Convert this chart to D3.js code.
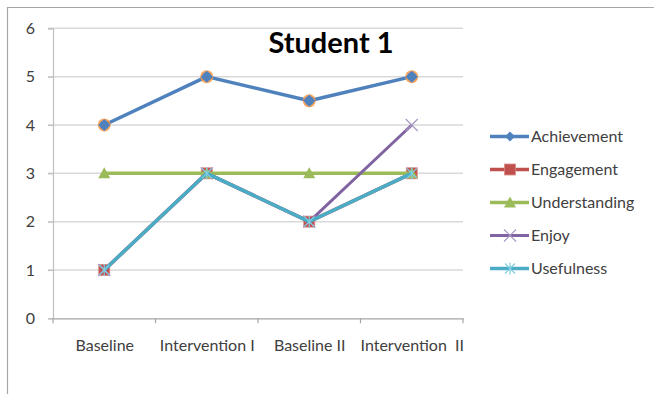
<!DOCTYPE html>
<html>
<head>
<meta charset="utf-8">
<script src="https://cdn.jsdelivr.net/npm/d3@7"></script>
<style>
  body { margin: 0; background: #fff; }
  text { font-family: Lato, "Liberation Sans", sans-serif; }
</style>
</head>
<body>
<svg id="chart" width="654" height="394"></svg>
<script>
// chart data
const categories = ['Baseline', 'Intervention I', 'Baseline II', 'Intervention  II'];
const achievement = [4, 5, 4.5, 5];
const engagement = [1, 3, 2, 3];
const understanding = [3, 3, 3, 3];
const enjoy = [1, 3, 2, 4];
const usefulness = [1, 3, 2, 3];
const yTicks = [0, 1, 2, 3, 4, 5, 6];
const title = 'Student 1';

const series = [
    { name: 'Achievement', values: achievement, color: '#4F81BD', marker: 'diamond', width: 3.5 },
    { name: 'Engagement', values: engagement, color: '#C0504D', marker: 'square', width: 3.5 },
    { name: 'Understanding', values: understanding, color: '#9BBB59', marker: 'triangle', width: 3.5 },
    { name: 'Enjoy', values: enjoy, color: '#8064A2', marker: 'x', width: 3 },
    { name: 'Usefulness', values: usefulness, color: '#4BACC6', marker: 'star', width: 3.5 }
];

const svg = d3.select('#chart');

// outer frame (only top and left edges are in view)
svg.append('path')
    .attr('d', 'M7.5,394V7.5H654')
    .attr('fill', 'none')
    .attr('stroke', '#a6a6a6')
    .attr('stroke-width', 1.2);

const plot = { left: 53, right: 463, top: 28.3, bottom: 318.3 };

let x = d3.scalePoint()
    .domain(categories)
    .range([plot.left, plot.right])
    .padding(0.5);

let band = d3.scaleBand()
    .domain(categories)
    .range([plot.left, plot.right]);

let y = d3.scaleLinear()
    .domain([0, 6])
    .range([plot.bottom, plot.top]);

// gridlines
svg.append('g')
    .selectAll('line')
    .data(yTicks.filter(d => d > 0))
    .enter().append('line')
        .attr('x1', plot.left - 5)
        .attr('x2', plot.right)
        .attr('y1', d => y(d))
        .attr('y2', d => y(d))
        .attr('stroke', '#d9d9d9')
        .attr('stroke-width', 1.5);

// y axis
let yAxis = svg.append('g')
    .attr('transform', `translate(${plot.left},0)`)
    .call(d3.axisLeft(y).tickValues(yTicks).tickFormat(d3.format('d')).tickSize(5).tickPadding(13));
yAxis.select('.domain').attr('stroke', '#bfbfbf').attr('stroke-width', 1.2);
yAxis.selectAll('.tick line').attr('stroke', '#bfbfbf').attr('stroke-width', 1.2);
yAxis.selectAll('text')
    .attr('fill', '#404040')
    .style('font-size', '16px');

// x axis
let xAxis = svg.append('g')
    .attr('transform', `translate(0,${plot.bottom})`)
    .call(d3.axisBottom(x).tickSize(0).tickPadding(21));
xAxis.select('.domain').attr('stroke', '#a6a6a6').attr('stroke-width', 1.2);
xAxis.selectAll('text')
    .attr('fill', '#404040')
    .style('font-size', '16px')
    .style('white-space', 'pre');

// category boundary ticks
xAxis.append('g')
    .selectAll('line')
    .data(categories.map(c => band(c)).concat([band(categories[categories.length - 1]) + band.bandwidth()]))
    .enter().append('line')
        .attr('x1', d => d)
        .attr('x2', d => d)
        .attr('y1', 0)
        .attr('y2', 5)
        .attr('stroke', '#a6a6a6')
        .attr('stroke-width', 1.2);

// marker drawing
function drawMarker(g, type, color) {
    if (type === 'diamond') {
        g.append('circle').attr('r', 6.5).attr('fill', '#F79646').attr('opacity', 0.85);
        g.append('path').attr('d', 'M0,-6L6,0L0,6L-6,0Z').attr('fill', color);
        g.append('circle').attr('r', 4.5).attr('fill', color);
    } else if (type === 'square') {
        g.append('rect')
            .attr('x', -5.5).attr('y', -5.5)
            .attr('width', 11).attr('height', 11)
            .attr('fill', color)
            .attr('stroke', '#d98a88').attr('stroke-width', 0.8);
    } else if (type === 'triangle') {
        g.append('path').attr('d', 'M0,-6L6,5L-6,5Z').attr('fill', color);
    } else if (type === 'x') {
        g.append('path').attr('d', 'M-6,-6L6,6M-6,6L6,-6')
            .attr('stroke', '#a999c4').attr('stroke-width', 1.2);
    } else if (type === 'star') {
        g.append('path').attr('d', 'M-5,-5L5,5M-5,5L5,-5M0,-6V6')
            .attr('stroke', '#7fcde0').attr('stroke-width', 1.2);
    }
}

let line = d3.line()
    .x((d, i) => x(categories[i]))
    .y(d => y(d));

let layers = svg.append('g')
    .selectAll('g')
    .data(series)
    .enter().append('g');

layers.append('path')
    .attr('d', d => line(d.values))
    .attr('fill', 'none')
    .attr('stroke', d => d.color)
    .attr('stroke-width', d => d.width)
    .attr('stroke-linejoin', 'round');

layers.each(function(s) {
    let parent = d3.select(this);
    s.values.forEach((v, i) => {
        let g = parent.append('g')
            .attr('transform', `translate(${x(categories[i])},${y(v)})`);
        drawMarker(g, s.marker, s.color);
    });
});

// title
svg.append('text')
    .attr('x', 331)
    .attr('y', 52.5)
    .attr('text-anchor', 'middle')
    .attr('textLength', 125)
    .attr('lengthAdjust', 'spacingAndGlyphs')
    .style('font-size', '29px')
    .style('font-weight', 'bold')
    .attr('fill', '#000')
    .text(title);

// legend
let legend = svg.append('g')
    .selectAll('g')
    .data(series)
    .enter().append('g')
        .attr('transform', (d, i) => `translate(490,${136.5 + i * 33})`);

legend.append('line')
    .attr('x1', 0)
    .attr('x2', 39)
    .attr('stroke', d => d.color)
    .attr('stroke-width', d => d.width);

legend.each(function(s) {
    let g = d3.select(this).append('g').attr('transform', 'translate(20,0)');
    if (s.marker === 'diamond')
        g.append('path').attr('d', 'M0,-5L5,0L0,5L-5,0Z').attr('fill', s.color);
    else
        drawMarker(g, s.marker, s.color);
});

legend.append('text')
    .attr('x', 41)
    .attr('dy', '0.35em')
    .attr('fill', '#404040')
    .style('font-size', '16px')
    .text(d => d.name);
</script>
</body>
</html>
